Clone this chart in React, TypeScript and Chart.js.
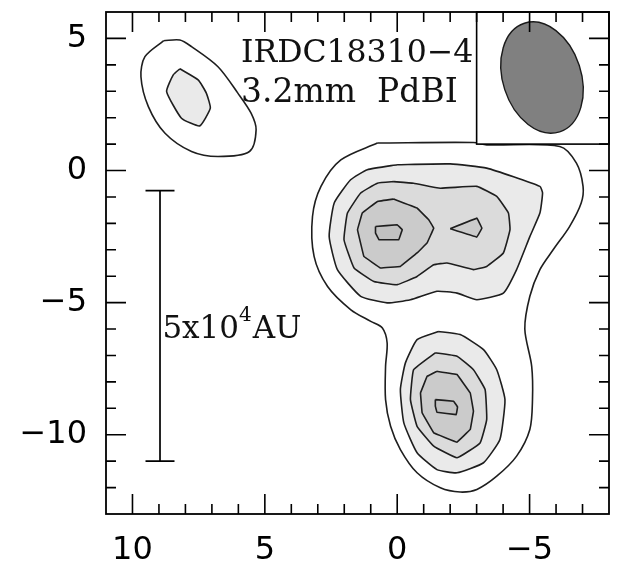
import { useEffect, useRef } from "react";
import { Chart, registerables } from "chart.js";

Chart.register(...registerables);

// ---------- axes ----------
const xMin = -8;
const xMax = 11;
const yMin = -13;
const yMax = 6;
const xTickLabels = [10, 5, 0, -5];
const yTickLabels = [5, 0, -5, -10];

type Pt = [number, number];

// ---------- contours (offsets in arcsec) ----------
const level1Main: Pt[] = [
  [0.75, 1.04], [-2.88, 1.06], [-3.38, 0.97], [-6.14, 0.91], [-6.77, 0.28],
  [-7.02, -0.6], [-6.95, -1.23], [-6.51, -2.12], [-5.89, -3.0], [-5.39, -3.75],
  [-5.01, -4.76], [-4.82, -6.0], [-5.08, -7.41], [-5.11, -8.67], [-5.01, -9.8],
  [-4.51, -10.81], [-3.76, -11.57], [-3.01, -12.07], [-2.38, -12.17], [-1.63, -12.01],
  [-0.75, -11.44], [-0.12, -10.56], [0.25, -9.68], [0.44, -8.67], [0.44, -7.41],
  [0.38, -6.53], [0.56, -5.96], [1.0, -5.71], [1.75, -5.27], [2.63, -4.39],
  [3.14, -3.25], [3.2, -1.74], [2.88, -0.6], [2.13, 0.4],
];
const level1NW: Pt[] = [
  [8.83, 4.91], [8.21, 4.94], [7.77, 4.69], [6.77, 3.93], [6.02, 2.93],
  [5.52, 2.17], [5.33, 1.54], [5.58, 0.72], [6.77, 0.53], [7.77, 0.72],
  [8.77, 1.41], [9.4, 2.42], [9.68, 3.55], [9.53, 4.31],
];
const level2Main: Pt[] = [
  [0, 0.22], [-2.0, 0.25], [-3.38, 0.09], [-5.39, -0.6], [-5.49, -0.85],
  [-5.39, -1.61], [-5.01, -2.5], [-4.51, -3.75], [-4.01, -4.64], [-3.01, -4.89],
  [-2.26, -4.64], [-1.5, -4.57], [-0.5, -4.89], [0.38, -5.01], [1.38, -4.76],
  [2.26, -3.75], [2.57, -2.5], [2.38, -1.23], [1.76, -0.35], [1.13, 0.03],
];
const level2South: Pt[] = [
  [-1.56, -6.09], [-2.38, -6.21], [-3.26, -6.78], [-3.76, -7.54], [-4.07, -8.67],
  [-3.88, -10.18], [-3.26, -11.06], [-2.26, -11.44], [-1.5, -11.32], [-0.75, -10.68],
  [-0.25, -9.55], [-0.12, -8.29], [-0.31, -7.28], [-0.75, -6.4],
];
const level2NW: Pt[] = [
  [8.21, 3.85], [7.52, 3.43], [7.21, 2.93], [7.06, 2.36], [7.46, 1.69],
  [8.15, 1.98], [8.71, 2.99], [8.46, 3.62],
];
const level3Main: Pt[] = [
  [0.13, -0.42], [-0.62, -0.48], [-1.63, -0.67], [-3.01, -0.6], [-3.76, -0.98],
  [-4.2, -1.61], [-4.26, -2.24], [-4.01, -3.12], [-3.38, -3.63], [-2.88, -3.75],
  [-1.88, -3.5], [-1.38, -3.57], [-0.75, -4.01], [0, -4.32], [0.88, -4.2],
  [1.63, -3.69], [2.01, -2.62], [1.88, -1.61], [1.38, -0.85], [0.75, -0.48],
];
const level3South: Pt[] = [
  [-1.44, -6.9], [-2.26, -7.03], [-2.88, -7.54], [-3.32, -8.29], [-3.38, -9.43],
  [-3.13, -10.31], [-2.26, -10.87], [-1.38, -10.43], [-0.75, -9.68], [-0.5, -8.67],
  [-0.62, -7.54],
];
const level4Main: Pt[] = [
  [0.13, -1.08], [-0.75, -1.42], [-1.19, -1.86], [-1.38, -2.18], [-1.13, -2.74],
  [-0.75, -3.12], [-0.12, -3.63], [0.63, -3.69], [1.26, -3.25], [1.5, -2.24],
  [1.32, -1.61], [0.75, -1.17],
];
const level4East: Pt[] = [
  [-2.0, -2.2], [-3.01, -1.8], [-3.2, -2.18], [-3.01, -2.52],
];
const level4South: Pt[] = [
  [-1.5, -7.6], [-2.26, -7.72], [-2.76, -8.42], [-2.88, -9.11], [-2.76, -9.8],
  [-2.26, -10.28], [-1.38, -9.93], [-0.94, -9.17], [-0.88, -8.42], [-1.13, -7.79],
];
const level5Main: Pt[] = [
  [0.82, -2.12], [0, -2.05], [-0.19, -2.24], [-0.06, -2.62], [0.69, -2.62], [0.82, -2.37],
];
const level5South: Pt[] = [
  [-1.44, -8.67], [-2.13, -8.73], [-2.28, -8.95], [-2.23, -9.24], [-1.5, -9.15], [-1.44, -8.92],
];

const levelFills = ["#ffffff", "#eaeaea", "#dbdbdb", "#cbcbcb", "#c2c2c2"];
const levelTension = [0.3, 0.15, 0.1, 0.02, 0.01];
const contours: { pts: Pt[]; level: number }[] = [
  { pts: level1Main, level: 0 },
  { pts: level1NW, level: 0 },
  { pts: level2Main, level: 1 },
  { pts: level2South, level: 1 },
  { pts: level2NW, level: 1 },
  { pts: level3Main, level: 2 },
  { pts: level3South, level: 2 },
  { pts: level4Main, level: 3 },
  { pts: level4East, level: 3 },
  { pts: level4South, level: 3 },
  { pts: level5Main, level: 4 },
  { pts: level5South, level: 4 },
];

// ---------- beam & annotations ----------
const beamBoxX = [-3, -8];
const beamBoxY = [1, 6];
const beamCenter: Pt = [-5.47, 3.52];
const beamMajor = 2.16;
const beamMinor = 1.48;
const beamAngleDeg = -18;
const scaleBarX = 8.96;
const scaleBarY = [-0.76, -11.0];
const titleLines = ["IRDC18310\u22124", "3.2mm  PdBI"];
const titlePos: Pt[] = [[5.9, 4.12], [5.9, 2.61]];
const scaleLabel = ["5x10", "4", "AU"];
const scaleLabelPos: Pt = [8.87, -6.34];

const fmt = (v: number) => (v < 0 ? "\u2212" + Math.abs(v) : String(v));

const decorPlugin = {
  id: "decor",
  afterDatasetsDraw(chart: any) {
    const { ctx, chartArea: a } = chart;
    const x = chart.scales.x;
    const y = chart.scales.y;
    ctx.save();

    // beam box
    const bx0 = x.getPixelForValue(beamBoxX[0]);
    const bx1 = x.getPixelForValue(beamBoxX[1]);
    const by0 = y.getPixelForValue(beamBoxY[0]);
    const by1 = y.getPixelForValue(beamBoxY[1]);
    ctx.fillStyle = "#ffffff";
    ctx.fillRect(Math.min(bx0, bx1), Math.min(by0, by1), Math.abs(bx1 - bx0), Math.abs(by1 - by0));
    ctx.strokeStyle = "#000";
    ctx.lineWidth = 1.6;
    ctx.strokeRect(Math.min(bx0, bx1), Math.min(by0, by1), Math.abs(bx1 - bx0), Math.abs(by1 - by0));

    // beam ellipse
    const cx = x.getPixelForValue(beamCenter[0]);
    const cy = y.getPixelForValue(beamCenter[1]);
    const rx = Math.abs(x.getPixelForValue(beamCenter[0] + beamMinor) - cx);
    const ry = Math.abs(y.getPixelForValue(beamCenter[1] + beamMajor) - cy);
    ctx.beginPath();
    ctx.ellipse(cx, cy, rx, ry, (beamAngleDeg * Math.PI) / 180, 0, Math.PI * 2);
    ctx.fillStyle = "#808080";
    ctx.fill();
    ctx.lineWidth = 1.4;
    ctx.strokeStyle = "#1a1a1a";
    ctx.stroke();

    // scale bar
    const sx = x.getPixelForValue(scaleBarX);
    const sy0 = y.getPixelForValue(scaleBarY[0]);
    const sy1 = y.getPixelForValue(scaleBarY[1]);
    const capW = 14.5;
    ctx.strokeStyle = "#000";
    ctx.lineWidth = 1.7;
    ctx.beginPath();
    ctx.moveTo(sx, sy0);
    ctx.lineTo(sx, sy1);
    ctx.moveTo(sx - capW, sy0);
    ctx.lineTo(sx + capW, sy0);
    ctx.moveTo(sx - capW, sy1);
    ctx.lineTo(sx + capW, sy1);
    ctx.stroke();

    // texts
    ctx.fillStyle = "#111";
    ctx.textBaseline = "alphabetic";
    ctx.textAlign = "left";
    ctx.font = "31.5px 'DejaVu Serif'";
    ctx.fillText(titleLines[0], x.getPixelForValue(titlePos[0][0]), y.getPixelForValue(titlePos[0][1]));
    ctx.font = "33px 'DejaVu Serif'";
    ctx.fillText(titleLines[1], x.getPixelForValue(titlePos[1][0]), y.getPixelForValue(titlePos[1][1]));
    let tx = x.getPixelForValue(scaleLabelPos[0]);
    const ty = y.getPixelForValue(scaleLabelPos[1]);
    ctx.font = "31px 'DejaVu Serif'";
    ctx.fillText(scaleLabel[0], tx, ty);
    tx += ctx.measureText(scaleLabel[0]).width;
    ctx.font = "20px 'DejaVu Serif'";
    ctx.fillText(scaleLabel[1], tx, ty - 17);
    tx += ctx.measureText(scaleLabel[1]).width + 1;
    ctx.font = "31px 'DejaVu Serif'";
    ctx.fillText(scaleLabel[2], tx, ty);

    // frame and inward ticks
    ctx.strokeStyle = "#000";
    ctx.lineWidth = 1.8;
    ctx.strokeRect(a.left, a.top, a.right - a.left, a.bottom - a.top);
    ctx.lineWidth = 1.6;
    ctx.beginPath();
    for (let v = Math.ceil(xMin) + 1; v < xMax; v++) {
      const p = x.getPixelForValue(v);
      const len = v % 5 === 0 ? 20 : 10;
      ctx.moveTo(p, a.bottom);
      ctx.lineTo(p, a.bottom - len);
      ctx.moveTo(p, a.top);
      ctx.lineTo(p, a.top + len);
    }
    for (let v = yMin + 1; v < yMax; v++) {
      const p = y.getPixelForValue(v);
      const len = v % 5 === 0 ? 20 : 10;
      ctx.moveTo(a.left, p);
      ctx.lineTo(a.left + len, p);
      ctx.moveTo(a.right, p);
      ctx.lineTo(a.right - len, p);
    }
    ctx.stroke();
    ctx.restore();
  },
};

export default function App() {
  const ref = useRef<HTMLCanvasElement | null>(null);
  useEffect(() => {
    if (!ref.current) return;
    const datasets = contours.map((c) => ({
      data: [...c.pts, c.pts[0]].map(([px, py]) => ({ x: px, y: py })),
      showLine: true,
      fill: "shape",
      backgroundColor: levelFills[c.level],
      borderColor: "#1e1e1e",
      borderWidth: 1.6,
      pointRadius: 0,
      tension: levelTension[c.level],
      order: 10 - c.level,
    }));
    const chart = new Chart(ref.current, {
      type: "scatter",
      data: { datasets: datasets as any },
      options: {
        animation: false,
        responsive: false,
        layout: { padding: { top: 12, right: 14, left: 0, bottom: 0 } },
        plugins: { legend: { display: false }, tooltip: { enabled: false } },
        scales: {
          x: {
            type: "linear",
            min: xMin,
            max: xMax,
            reverse: true,
            grid: { display: false, drawTicks: false },
            border: { display: false },
            afterFit: (s: any) => {
              s.height = 54;
              s.paddingLeft = 0;
              s.paddingRight = 0;
            },
            ticks: {
              stepSize: 1,
              autoSkip: false,
              maxRotation: 0,
              padding: 17,
              color: "#000",
              font: { family: "'DejaVu Sans'", size: 32 },
              callback: (v: any) => (xTickLabels.includes(Number(v)) ? fmt(Number(v)) : ""),
            },
          },
          y: {
            type: "linear",
            min: yMin,
            max: yMax,
            grid: { display: false, drawTicks: false },
            border: { display: false },
            afterFit: (s: any) => {
              s.width = 106;
              s.paddingTop = 0;
              s.paddingBottom = 0;
            },
            ticks: {
              stepSize: 1,
              autoSkip: false,
              padding: 19,
              color: "#000",
              font: { family: "'DejaVu Sans'", size: 32 },
              callback: (v: any) => (yTickLabels.includes(Number(v)) ? fmt(Number(v)) : ""),
            },
          },
        },
      },
      plugins: [decorPlugin],
    });
    return () => chart.destroy();
  }, []);
  return (
    <div style={{ position: "fixed", left: 0, top: 0, width: 623, height: 568, background: "#fff" }}>
      <canvas ref={ref} width={623} height={568} style={{ display: "block" }} />
    </div>
  );
}
